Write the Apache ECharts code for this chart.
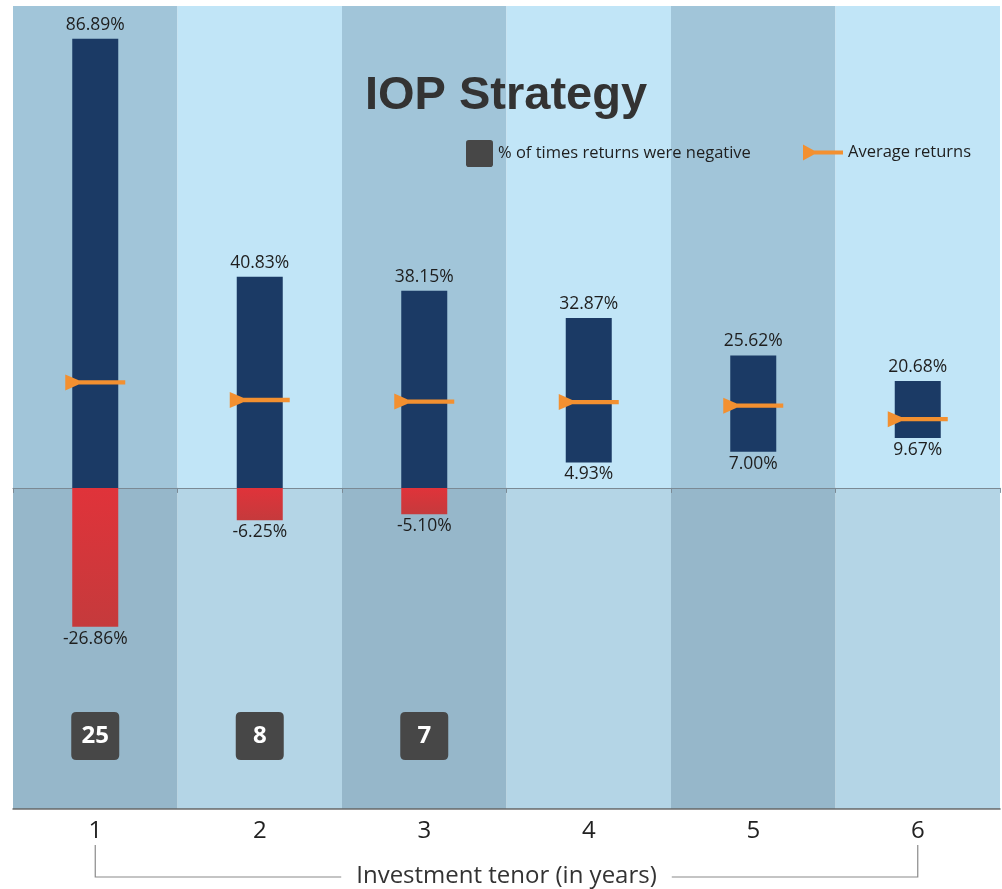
<!DOCTYPE html>
<html>
<head>
<meta charset="utf-8">
<title>IOP Strategy</title>
<script src="https://cdn.jsdelivr.net/npm/echarts@6/dist/echarts.min.js"></script>
<style>
  html, body { margin: 0; padding: 0; background: #fff; }
  #chart { width: 1002px; height: 889px; }
</style>
</head>
<body>
<div id="chart"></div>
<script>
// values
const tenors = ['1', '2', '3', '4', '5', '6']
const maxReturns = [86.89, 40.83, 38.15, 32.87, 25.62, 20.68]
const minReturns = [-26.86, -6.25, -5.10, 4.93, 7.00, 9.67]
const avgReturns = [20.4, 17.0, 16.7, 16.6, 15.9, 13.3]
const negativeCounts = [25, 8, 7, 0, 0, 0]

const yMin = -62.1
const yMax = 93.2
const boxLevel = -48 // row where the count boxes sit

const navy = '#1b3a65'
const orange = '#f39030'
const boxGrey = '#474747'
const font = '"Open Sans", sans-serif'

const pct = v => v.toFixed(2) + '%'
const avgSymbol = 'path://M0,0 L13,5.5 L58,5.5 L58,9.5 L13,9.5 L0,15 Z'
const avgIcon = 'path://M0,0 L11,6 L40,6 L40,10 L11,10 L0,16 Z'
const boxSymbol = 'path://M5,0 L43,0 Q48,0 48,5 L48,43 Q48,48 43,48 L5,48 Q0,48 0,43 L0,5 Q0,0 5,0 Z'

// stacked bars: invisible base up to a positive minimum, navy body, red below zero
const baseVals = minReturns.map(v => v > 0 ? v : 0)
const bodyVals = maxReturns.map((v, i) => +(v - baseVals[i]).toFixed(2))
const negVals = minReturns.map(v => v < 0 ? v : '-')
const countVals = negativeCounts.map(c => c > 0 ? boxLevel : '-')

const chart = echarts.init(document.getElementById('chart'))

const valueLabel = {
  show: true,
  formatter: p => pct(p.value),
  fontSize: 17.5,
  color: '#1e1e1e',
  fontFamily: font
}

const option = {
  animation: false,
  title: {
    text: 'IOP Strategy',
    left: 360,
    top: 68,
    textStyle: {
      fontSize: 47,
      fontWeight: 'bold',
      fontFamily: '"Liberation Sans", Arial, sans-serif',
      color: '#333'
    }
  },
  legend: [
    {
      left: 461,
      top: 135,
      itemWidth: 27,
      itemHeight: 27,
      selectedMode: false,
      data: [{name: '% of times returns were negative', icon: boxSymbol}],
      textStyle: {fontSize: 16.5, color: '#1e1e1e', fontFamily: font}
    },
    {
      left: 798,
      top: 139,
      itemWidth: 40,
      itemHeight: 16,
      selectedMode: false,
      data: [{name: 'Average returns', icon: avgIcon}],
      textStyle: {fontSize: 16.5, color: '#1e1e1e', fontFamily: font}
    }
  ],
  grid: {
    left: 13,
    right: 2,
    top: 6,
    bottom: 80
  },
  xAxis: [
    {
      type: 'category',
      data: tenors,
      position: 'bottom',
      axisLine: {onZero: false, lineStyle: {color: '#6e6e6e', width: 1.5}},
      axisTick: {show: false},
      axisLabel: {fontSize: 24, color: '#222', margin: 10, fontFamily: font},
      splitArea: {
        show: true,
        areaStyle: {color: ['#a1c5d9', '#c1e5f7']}
      }
    },
    {
      // zero line with small ticks at the column edges
      type: 'category',
      data: tenors,
      position: 'bottom',
      axisLine: {onZero: true, lineStyle: {color: '#8494a0', width: 1.2}},
      axisTick: {show: true, length: 5, lineStyle: {color: '#8494a0'}},
      axisLabel: {show: false}
    }
  ],
  yAxis: {
    type: 'value',
    min: yMin,
    max: yMax,
    show: false
  },
  series: [
    {
      name: 'base',
      type: 'bar',
      stack: 'range',
      barWidth: 46,
      silent: true,
      itemStyle: {color: 'transparent'},
      data: baseVals,
      markArea: {
        silent: true,
        itemStyle: {color: 'rgba(0,0,0,0.065)'},
        data: [[{yAxis: 0}, {yAxis: yMin}]]
      }
    },
    {
      name: 'range',
      type: 'bar',
      stack: 'range',
      barWidth: 46,
      silent: true,
      itemStyle: {color: navy},
      data: bodyVals
    },
    {
      name: 'negative',
      type: 'bar',
      stack: 'range',
      barWidth: 46,
      silent: true,
      itemStyle: {
        color: new echarts.graphic.LinearGradient(0, 0, 0, 1, [
          {offset: 0, color: '#e0333a'},
          {offset: 1, color: '#c53a3c'}
        ])
      },
      data: negVals
    },
    {
      name: 'maxLabel',
      type: 'scatter',
      symbolSize: 0,
      silent: true,
      itemStyle: {color: 'transparent', opacity: 1},
      label: Object.assign({position: 'top', distance: 5}, valueLabel),
      data: maxReturns
    },
    {
      name: 'minLabel',
      type: 'scatter',
      symbolSize: 0,
      silent: true,
      itemStyle: {color: 'transparent', opacity: 1},
      label: Object.assign({position: 'bottom', distance: 3}, valueLabel),
      data: minReturns
    },
    {
      name: 'Average returns',
      type: 'scatter',
      symbol: avgSymbol,
      symbolSize: [60, 16],
      silent: true,
      z: 5,
      itemStyle: {color: orange, opacity: 1},
      data: avgReturns
    },
    {
      name: '% of times returns were negative',
      type: 'scatter',
      symbol: boxSymbol,
      symbolSize: 48,
      silent: true,
      itemStyle: {color: boxGrey, opacity: 1},
      label: {
        show: true,
        position: 'inside',
        formatter: p => negativeCounts[p.dataIndex],
        fontSize: 24,
        fontWeight: 'bold',
        color: '#fff',
        fontFamily: font
      },
      data: countVals
    }
  ]
}

chart.setOption(option)

// bracket under the axis, from the first tenor to the last
const x1 = chart.convertToPixel({xAxisIndex: 0}, tenors[0])
const x6 = chart.convertToPixel({xAxisIndex: 0}, tenors[tenors.length - 1])
chart.setOption({
  graphic: [
    {
      type: 'polyline',
      silent: true,
      shape: {points: [[x1, 845], [x1, 877], [x6, 877], [x6, 845]]},
      style: {stroke: '#8a8a8a', lineWidth: 1.2, fill: null}
    },
    {
      type: 'text',
      silent: true,
      x: (x1 + x6) / 2,
      y: 876,
      style: {
        text: 'Investment tenor (in years)',
        align: 'center',
        verticalAlign: 'middle',
        fontSize: 24,
        fontFamily: font,
        fill: '#333',
        backgroundColor: '#fff',
        padding: [0, 15]
      }
    }
  ]
})
</script>
</body>
</html>
